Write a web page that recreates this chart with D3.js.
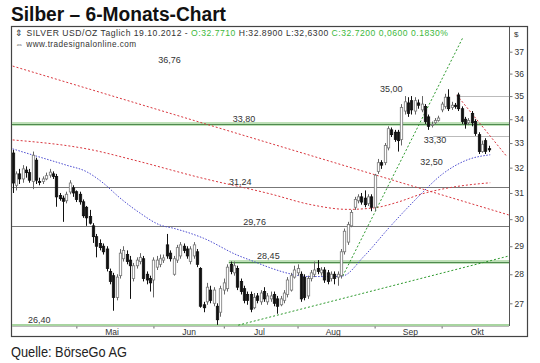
<!DOCTYPE html>
<html>
<head>
<meta charset="utf-8">
<script src="https://cdnjs.cloudflare.com/ajax/libs/d3/7.8.5/d3.min.js"></script>
<style>
  body { margin: 0; background: #fff; }
  svg { display: block; }
  text { font-family: "Liberation Sans", Arial, sans-serif; }
</style>
</head>
<body>
<div id="chart"></div>
<script>
// Silber, Tageskerzen 04.04.2012 - 19.10.2012
const firstDay = "2012-04-04";
const lastCalendarDay = "2012-11-01";

const opens = [32.59,31.30,31.75,31.55,31.90,31.80,31.45,32.30,31.45,31.45,31.55,31.70,31.75,31.65,30.90,30.80,30.70,31.04,31.20,31.05,
  30.95,30.66,30.45,30.10,29.75,29.35,29.10,29.00,28.90,28.10,27.95,27.20,27.95,28.55,28.70,28.50,27.85,28.30,28.45,28.55,
  28.00,27.85,27.80,28.25,28.35,28.50,29.05,28.75,28.00,28.50,28.65,29.00,28.90,28.45,28.65,28.80,28.20,26.95,27.05,27.45,
  27.00,26.90,26.70,27.45,27.50,28.35,28.05,28.20,27.75,27.50,27.30,27.30,26.85,27.25,27.05,27.40,27.05,27.15,27.30,27.15,
  26.95,27.10,27.30,27.45,27.90,28.05,28.00,27.90,27.25,27.85,28.00,28.20,28.05,28.15,28.05,27.85,28.00,27.90,27.95,28.80,
  29.15,29.75,30.45,30.70,30.85,30.80,30.60,30.85,30.45,31.85,32.20,32.20,32.80,33.55,33.45,33.45,33.15,34.35,34.70,34.80,
  34.35,34.70,34.40,34.55,34.10,33.75,33.85,33.95,34.40,34.55,34.95,34.50,34.60,35.05,34.45,34.00,33.85,34.25,33.90,33.35,
  32.65,33.10,32.771];
const highs = [32.72,31.85,31.95,32.10,32.05,31.95,32.65,32.40,31.60,31.65,31.80,31.95,31.85,31.75,31.00,30.90,31.05,31.50,31.30,31.10,
  31.05,30.75,30.50,30.35,29.85,29.45,29.25,29.10,29.00,28.20,28.05,28.00,28.90,29.00,28.85,28.65,28.40,28.60,28.75,28.65,
  28.10,27.95,28.60,28.65,28.70,28.70,29.45,28.85,28.65,29.05,29.15,29.10,29.00,29.00,29.15,28.90,28.25,27.05,27.70,27.60,
  27.55,27.00,27.60,27.85,28.35,28.45,28.45,28.30,27.85,27.60,27.40,27.40,27.35,27.35,27.45,27.55,27.35,27.40,27.40,27.25,
  27.25,27.45,27.90,28.05,28.30,28.35,28.10,28.00,27.95,28.15,28.45,28.50,28.25,28.25,28.15,28.10,28.10,28.10,28.90,29.65,
  29.90,30.35,30.85,30.95,31.00,31.10,30.95,30.95,31.75,32.35,32.30,33.00,33.70,33.65,33.55,33.55,34.65,35.00,34.95,35.00,
  34.95,34.85,35.00,34.65,34.20,33.90,34.05,34.15,34.75,35.10,35.30,34.75,34.70,35.15,34.55,34.10,34.05,34.35,34.00,33.45,
  33.10,33.20,32.89];
const lows = [31.00,31.10,31.35,31.40,31.60,31.40,31.15,31.35,31.30,31.35,31.50,31.60,31.55,30.47,30.70,29.90,30.60,30.95,30.85,30.65,
  30.55,30.05,29.75,29.80,29.12,28.60,28.85,28.70,28.10,27.65,26.75,27.10,27.85,28.45,28.35,27.15,27.75,28.20,28.35,27.75,
  27.65,27.40,27.20,28.15,28.25,28.40,28.55,28.45,27.95,28.40,28.55,28.75,28.55,28.35,28.55,28.25,26.85,26.70,26.95,27.00,
  26.90,26.28,26.55,27.30,27.40,28.00,27.95,27.45,27.30,27.00,26.95,26.70,26.80,27.00,26.95,27.05,26.95,27.05,26.90,26.65,
  26.90,27.00,27.20,27.40,27.85,27.95,27.05,27.10,27.15,27.75,27.90,28.00,27.95,27.70,27.65,27.75,27.65,27.60,27.85,28.70,
  29.05,29.70,30.35,30.60,30.55,30.45,30.50,30.30,30.30,31.75,31.95,32.10,32.70,33.25,33.05,32.65,32.90,34.20,34.10,34.20,
  34.20,34.45,34.30,33.80,33.55,33.65,33.80,33.90,34.30,34.45,34.35,34.40,34.45,34.35,33.80,33.60,33.75,33.70,33.30,32.55,
  32.60,32.55,32.63];
const closes = [31.39,31.75,31.55,31.95,31.80,31.50,32.50,31.50,31.42,31.55,31.68,31.82,31.65,30.85,30.78,30.68,30.95,31.39,31.00,30.75,
  30.66,30.13,30.05,29.85,29.35,29.00,28.95,28.80,28.20,27.75,27.20,27.90,28.75,28.85,28.45,28.30,28.30,28.50,28.60,27.85,
  27.80,27.70,28.50,28.50,28.55,28.58,28.65,28.55,28.55,28.95,29.05,28.85,28.65,28.90,29.05,28.35,26.90,26.85,27.55,27.10,
  27.45,26.45,27.50,27.70,28.25,28.10,28.30,27.55,27.40,27.10,27.10,26.80,27.20,27.10,27.35,27.15,27.25,27.25,27.00,26.90,
  27.15,27.35,27.80,27.95,28.15,28.20,27.15,27.20,27.85,28.05,28.15,28.10,28.15,27.80,27.75,28.00,27.85,28.00,28.80,29.55,
  29.80,30.25,30.75,30.85,30.65,30.55,30.85,30.45,31.70,32.20,32.10,32.90,33.60,33.35,33.15,33.10,34.50,34.75,34.25,34.40,
  34.80,34.60,34.65,33.90,33.70,33.78,33.95,34.05,34.65,34.95,34.45,34.60,34.55,34.45,33.90,33.80,33.95,33.85,33.40,32.65,
  32.95,32.66,32.72];

// Gleitende Durchschnitte (Kerzen-Index, Kurs)
const blueAvgIdx = [0,6,16,22,27,32,38,44,48,57,67,72,77,83,88,96,98.5,104.7,112.6,121,128.5,135.6,142.5];
const blueAvgVal = [32.76,32.51,32.10,31.84,31.39,30.81,30.23,29.78,29.66,29.29,28.68,28.45,28.22,28.01,27.92,27.92,27.94,28.62,29.72,30.85,31.77,32.31,32.52];
const redAvgIdx = [0,24,36,56,77,89,100,108,115,122,131,142.5];
const redAvgVal = [33.13,32.71,32.31,31.60,30.96,30.55,30.37,30.43,30.65,30.96,31.22,31.40];

// Trendlinien: [Index von, Kurs von, Index bis, Kurs bis]
const trendLines = [
  { name: "downChannel", from: [0, 36.34], to: [148, 30.16], color: "red" },
  { name: "upSteep", from: [98.5, 27.94], to: [134.2, 37.62], color: "green" },
  { name: "upLong", from: [67.3, 26.27], to: [148.1, 28.65], color: "green" },
  { name: "downShort", from: [132.5, 35.05], to: [147.5, 32.44], color: "red" }
];

// Horizontale Marken
const levelValues = [33.80, 31.24, 29.76, 28.45, 26.28, 33.30, 35.00];
const levelKinds = ["band", "grey", "grey", "band", "thin-green", "grey-thin", "grey-thin"];
const levelFrom = [-0.2, -0.2, -0.2, 64.5, -0.2, 125.5, 132.5];
const markLabels = ["36,76", "33,80", "31,24", "29,76", "28,45", "26,40", "35,00", "33,30", "32,50"];
const markValues = [36.57, 33.99, 31.40, 29.86, 28.62, 26.42, 35.30, 33.10, 32.21];
const markIdx = [46.8, 69, 67.9, 72.2, 76.3, 7.9, 113, 126, 125];

const yTicks = [27, 28, 29, 30, 31, 32, 33, 34, 35, 36, 37];
const monthNames = ["Mai", "Jun", "Jul", "Aug", "Sep", "Okt"];

const header = [
  { t: "\u21D5 SILVER USD/OZ Taglich  19.10.2012 - ", c: "#333" },
  { t: "O:32.7710 ", c: "#3cb83c" },
  { t: "H:32.8900 L:32,6300 ", c: "#333" },
  { t: "C:32.7200  0,0600  0.1830%", c: "#3cb83c" }
];

// ---------------------------------------------------------------
const W = 540, H = 363;
const plot = { left: 12, right: 509, top: 27, bottom: 326 };

const svg = d3.select("#chart").append("svg").attr("width", W).attr("height", H);
svg.append("rect").attr("width", W).attr("height", H).attr("fill", "#fff");

// Handelstage (Mo-Fr)
const days = [];
for (let d = new Date(firstDay + "T12:00:00"); d <= new Date(lastCalendarDay + "T12:00:00"); d.setDate(d.getDate() + 1)) {
  if (d.getDay() !== 0 && d.getDay() !== 6) days.push(new Date(d));
}
const candles = closes.map((c, i) => ({ i, date: days[i], o: opens[i], h: highs[i], l: lows[i], c }));
const monthStarts = days.map((d, i) => i).filter(i => i > 0 && days[i].getMonth() !== days[i - 1].getMonth());

const x = d3.scaleLinear().domain([-0.2, 148.1]).range([plot.left, plot.right]);
const y = d3.scaleLog().domain([27, 37]).range([303.3, 51.7]);

// Titel + Quelle
svg.append("text").attr("x", 11).attr("y", 20.5)
  .attr("font-family", "'Open Sans', sans-serif").attr("font-weight", 700).attr("font-size", 20)
  .attr("textLength", 215).attr("lengthAdjust", "spacingAndGlyphs")
  .attr("fill", "#111").text("Silber \u2013 6-Monats-Chart");
svg.append("text").attr("x", 11).attr("y", 357)
  .attr("font-family", "'Open Sans', sans-serif").attr("font-size", 14)
  .attr("textLength", 116).attr("lengthAdjust", "spacingAndGlyphs")
  .attr("fill", "#222").text("Quelle: B\u00F6rseGo AG");

// Rahmen
svg.append("rect").attr("x", 11.5).attr("y", 26.5).attr("width", 516).attr("height", 310)
  .attr("fill", "none").attr("stroke", "#444").attr("stroke-width", 1.2);

svg.append("clipPath").attr("id", "plotclip").append("rect")
  .attr("x", plot.left).attr("y", plot.top).attr("width", plot.right - plot.left).attr("height", plot.bottom - plot.top);
const g = svg.append("g").attr("clip-path", "url(#plotclip)");

// Kopfzeilen
const hdr = svg.append("text").attr("x", 15).attr("y", 35.5).attr("font-size", 8.6)
  .attr("textLength", 433).attr("lengthAdjust", "spacing");
header.forEach(h => hdr.append("tspan").attr("fill", h.c).text(h.t));
svg.append("text").attr("x", 15).attr("y", 46.5).attr("font-size", 8.2).attr("fill", "#333")
  .attr("textLength", 121).attr("lengthAdjust", "spacing")
  .text("\u21D4 www.tradesignalonline.com");

// Horizontale Marken
levelValues.forEach((v, k) => {
  const yy = Math.round(y(v)) + 0.5;
  const x0 = x(levelFrom[k]), x1 = plot.right;
  const kind = levelKinds[k];
  if (kind === "band") {
    g.append("rect").attr("x", x0).attr("y", yy - 2.5).attr("width", x1 - x0).attr("height", 4).attr("fill", "#bfe0b8");
    g.append("line").attr("x1", x0).attr("x2", x1).attr("y1", yy).attr("y2", yy).attr("stroke", "#4f8a4f").attr("stroke-width", 1);
  } else if (kind === "thin-green") {
    g.append("line").attr("x1", x0).attr("x2", x1).attr("y1", yy - 0.5).attr("y2", yy - 0.5).attr("stroke", "#a8d4a0").attr("stroke-width", 2);
  } else if (kind === "grey") {
    g.append("line").attr("x1", x0).attr("x2", x1).attr("y1", yy).attr("y2", yy).attr("stroke", "#777").attr("stroke-width", 1);
  } else {
    g.append("line").attr("x1", x0).attr("x2", x1).attr("y1", yy).attr("y2", yy).attr("stroke", "#aaa").attr("stroke-width", 0.8);
  }
});

// Gleitende Durchschnitte
const avgLine = d3.line().x(d => x(d[0])).y(d => y(d[1])).curve(d3.curveMonotoneX);
g.append("path").datum(redAvgIdx.map((v, k) => [v, redAvgVal[k]]))
  .attr("d", avgLine).attr("fill", "none").attr("stroke", "#d9363e").attr("stroke-width", 1).attr("stroke-dasharray", "2,2");
g.append("path").datum(blueAvgIdx.map((v, k) => [v, blueAvgVal[k]]))
  .attr("d", avgLine).attr("fill", "none").attr("stroke", "#4a4ad0").attr("stroke-width", 1).attr("stroke-dasharray", "1.5,1.5");

// Trendlinien
const lineColors = { red: "#d9363e", green: "#2e9a2e" };
trendLines.forEach(t => {
  g.append("line")
    .attr("x1", x(t.from[0])).attr("y1", y(t.from[1]))
    .attr("x2", x(t.to[0])).attr("y2", y(t.to[1]))
    .attr("stroke", lineColors[t.color]).attr("stroke-width", 1).attr("stroke-dasharray", "2,2");
});

// Kerzen
const bw = 2.4;
const cg = g.append("g").selectAll("g").data(candles).join("g");
cg.append("line")
  .attr("x1", d => Math.round(x(d.i)) + 0.5).attr("x2", d => Math.round(x(d.i)) + 0.5)
  .attr("y1", d => y(d.h)).attr("y2", d => y(d.l))
  .attr("stroke", d => d.c < d.o ? "#111" : "#666").attr("stroke-width", 1);
cg.append("rect")
  .attr("x", d => Math.round(x(d.i)) + 0.5 - bw / 2)
  .attr("y", d => y(Math.max(d.o, d.c)))
  .attr("width", bw)
  .attr("height", d => Math.max(1, Math.abs(y(d.o) - y(d.c))))
  .attr("fill", d => d.c < d.o ? "#111" : "#fff")
  .attr("stroke", d => d.c < d.o ? "#111" : "#777").attr("stroke-width", 0.8);

// Beschriftungen der Marken
svg.append("g").selectAll("text").data(markLabels).join("text")
  .attr("x", (d, k) => x(markIdx[k])).attr("y", (d, k) => y(markValues[k]))
  .attr("text-anchor", "middle").attr("dominant-baseline", "middle")
  .attr("font-size", 9).attr("fill", "#333").text(d => d);

// y-Achse rechts
svg.append("line").attr("x1", plot.right + 0.5).attr("x2", plot.right + 0.5)
  .attr("y1", plot.top).attr("y2", plot.bottom).attr("stroke", "#555");
const yAxis = svg.append("g").attr("transform", `translate(${plot.right + 0.5},0)`)
  .call(d3.axisRight(y).tickValues(yTicks).tickSize(3).tickPadding(2).tickFormat(d3.format("d")));
yAxis.select(".domain").remove();
yAxis.selectAll("line").attr("stroke", "#777");
yAxis.selectAll("text").attr("font-size", 8.5).attr("fill", "#333").attr("font-family", "'Liberation Sans', Arial, sans-serif");
svg.append("text").attr("x", 514).attr("y", 37).attr("font-size", 8).attr("fill", "#333").text("$");

// x-Achse unten
svg.append("line").attr("x1", plot.left).attr("x2", plot.right).attr("y1", plot.bottom + 0.5).attr("y2", plot.bottom + 0.5)
  .attr("stroke", "#bbb");
const xTicks = svg.append("g").attr("transform", `translate(0,${plot.bottom + 0.5})`)
  .call(d3.axisBottom(x).tickValues(monthStarts.slice(0, 6)).tickSize(2).tickFormat(""));
xTicks.select(".domain").remove();
xTicks.selectAll("line").attr("stroke", "#666");
const xLabels = svg.append("g").attr("transform", `translate(0,${plot.bottom})`)
  .call(d3.axisBottom(x).tickValues(monthStarts.slice(0, 6).map(i => i + 10.5)).tickSize(0).tickPadding(3)
    .tickFormat((d, k) => monthNames[k]));
xLabels.select(".domain").remove();
xLabels.selectAll("text").attr("font-size", 8.5).attr("fill", "#333").attr("font-family", "'Liberation Sans', Arial, sans-serif");
</script>
</body>
</html>
